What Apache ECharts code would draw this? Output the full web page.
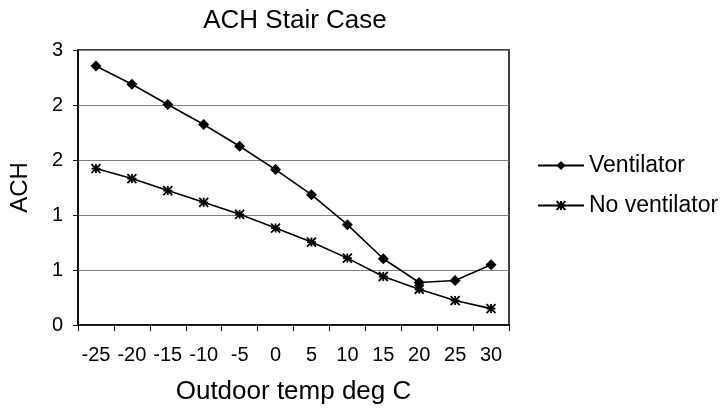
<!DOCTYPE html>
<html>
<head>
<meta charset="utf-8">
<script src="https://cdn.jsdelivr.net/npm/echarts@6/dist/echarts.min.js"></script>
<style>html,body{margin:0;padding:0;background:#fff}#c{width:725px;height:419px}</style>
</head>
<body>
<div id="c"></div>
<script>
const categories = ['-25','-20','-15','-10','-5','0','5','10','15','20','25','30'];
const ventilator = [2.355, 2.188, 2.005, 1.823, 1.625, 1.413, 1.185, 0.912, 0.602, 0.386, 0.404, 0.547];
const noVentilator = [1.422, 1.331, 1.222, 1.115, 1.006, 0.881, 0.754, 0.608, 0.441, 0.325, 0.222, 0.149];
const yTickLabels = ['0','1','1','2','2','3'];

const FONT = '"Liberation Sans", Arial, sans-serif';
const star = 'path://M0,0L10,10M10,0L0,10M5,0L5,10M0,5L10,5';
const chart = echarts.init(document.getElementById('c'));
chart.setOption({
  animation: false,
  backgroundColor: '#fff',
  textStyle: { fontFamily: FONT },
  title: {
    text: 'ACH Stair Case', left: 290, top: 3, textAlign: 'center',
    textStyle: { fontFamily: FONT, fontSize: 26, fontWeight: 'normal', color: '#000' }
  },
  legend: {
    orient: 'vertical', left: 532, top: 149, itemWidth: 46, itemHeight: 11, itemGap: 17,
    textStyle: { fontFamily: FONT, fontSize: 23, color: '#000' },
    data: ['Ventilator', 'No ventilator']
  },
  grid: { left: 76, right: 216, top: 50, bottom: 94, show: true, borderColor: '#000', borderWidth: 1.5 },
  xAxis: {
    type: 'category', data: categories, boundaryGap: true,
    name: 'Outdoor temp deg C', nameLocation: 'middle', nameGap: 54,
    nameTextStyle: { fontFamily: FONT, fontSize: 26, color: '#000' },
    axisLine: { lineStyle: { color: '#000', width: 1.5 } },
    axisTick: { show: true, alignWithLabel: false, length: 6, lineStyle: { color: '#000' } },
    axisLabel: { fontFamily: FONT, fontSize: 20, color: '#000', margin: 20, interval: 0 },
    splitLine: { show: false }
  },
  yAxis: {
    type: 'value', min: 0, max: 2.5, interval: 0.5,
    name: 'ACH', nameLocation: 'middle', nameGap: 46, nameRotate: 90,
    nameTextStyle: { fontFamily: FONT, fontSize: 24, color: '#000' },
    axisLine: { show: true, lineStyle: { color: '#000', width: 1.5 } },
    axisTick: { show: true, length: 5, lineStyle: { color: '#000' } },
    axisLabel: {
      fontFamily: FONT, fontSize: 20, color: '#000', margin: 15,
      formatter: (v) => yTickLabels[Math.round(v / 0.5)]
    },
    splitLine: { show: true, lineStyle: { color: '#808080', width: 1.2 } }
  },
  series: [
    {
      name: 'Ventilator', type: 'line', data: ventilator,
      symbol: 'diamond', symbolSize: 11,
      lineStyle: { color: '#000', width: 1.6 },
      itemStyle: { color: '#000' }
    },
    {
      name: 'No ventilator', type: 'line', data: noVentilator,
      symbol: star, symbolSize: 9,
      lineStyle: { color: '#000', width: 1.6 },
      itemStyle: { color: '#000', borderColor: '#000', borderWidth: 1.8 }
    }
  ]
});
</script>
</body>
</html>
